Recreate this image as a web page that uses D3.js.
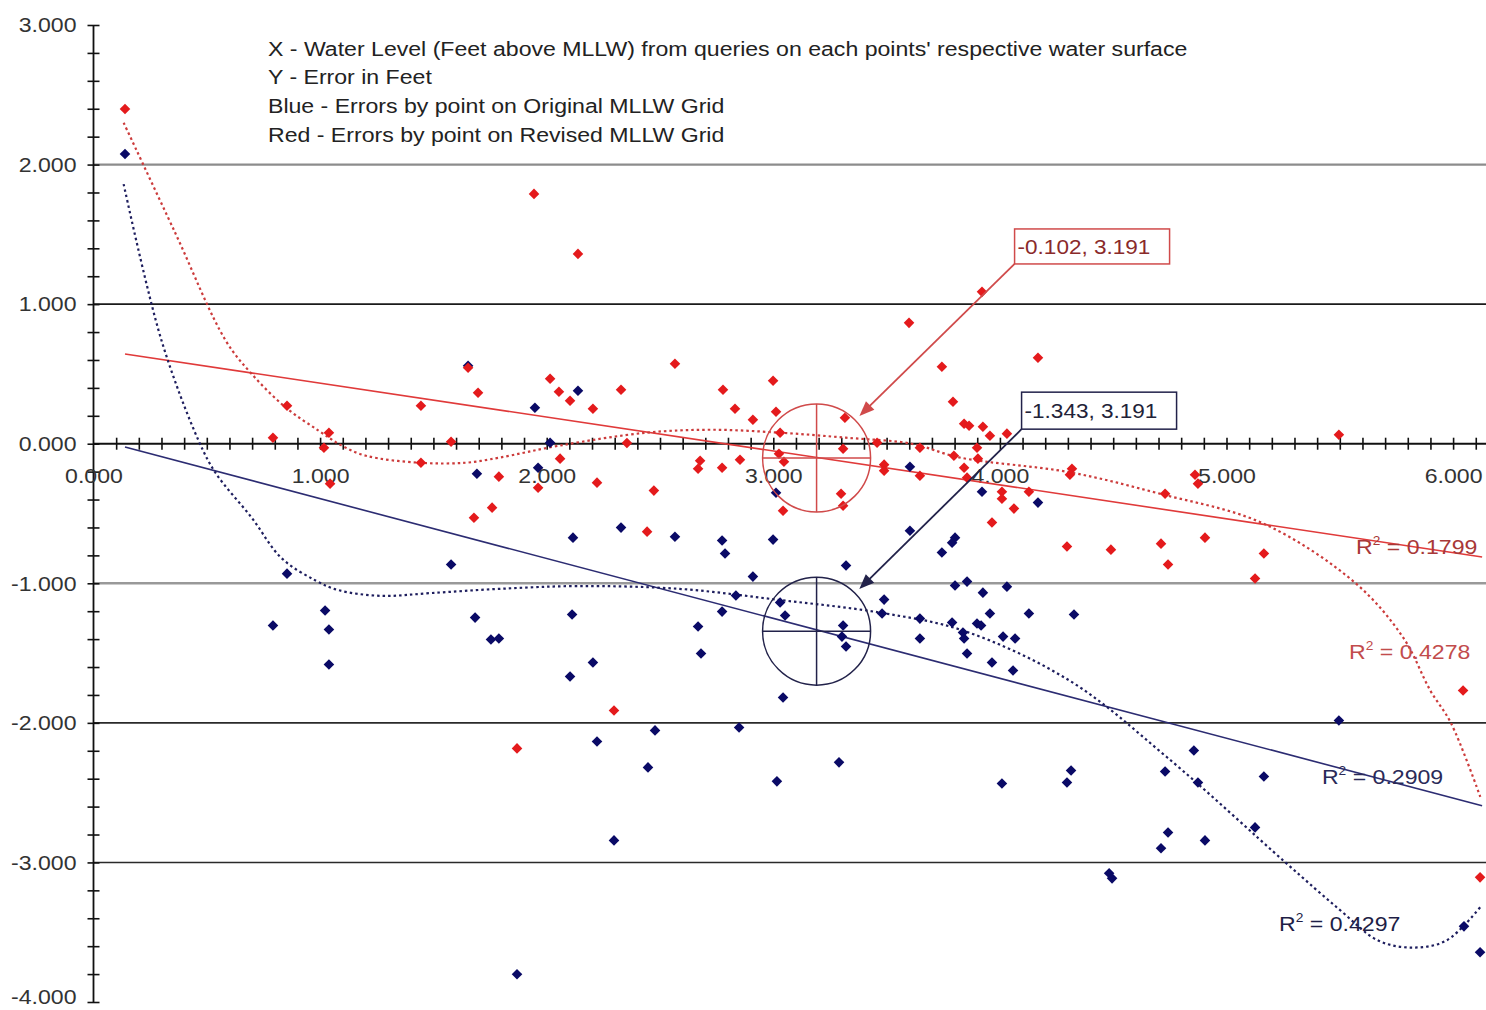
<!DOCTYPE html>
<html><head><meta charset="utf-8">
<script src="https://cdn.jsdelivr.net/npm/d3@7"></script>
<style>html,body{margin:0;padding:0;background:#fff;} svg{display:block;font-family:"Liberation Sans",Arial,sans-serif;}</style>
</head><body><svg id="chart" width="1486" height="1010"></svg>
<script>
// ---------- data ----------
const xTickValues = [0, 1, 2, 3, 4, 5, 6];
const yTickValues = [-4, -3, -2, -1, 0, 1, 2, 3];
const gridValues = [2, 1, -1, -2, -3];
const legendLines = [
  "X - Water Level (Feet above MLLW) from queries on each points' respective water surface",
  "Y - Error in Feet",
  "Blue - Errors by point on Original MLLW Grid",
  "Red - Errors by point on Revised MLLW Grid"
];
// Revised grid (red): [water level, error]
const redPoints = [
  [0.139,2.398],[0.854,0.272],[0.792,0.043],[1.039,0.079],[1.017,-0.029],[1.044,-0.286],
  [1.445,0.272],[1.578,0.014],[1.653,0.544],[1.697,0.365],[1.445,-0.136],[1.789,-0.236],
  [1.679,-0.530],[1.759,-0.458],[1.944,1.790],[2.138,1.360],[2.015,0.465],[2.054,0.372],
  [2.103,0.308],[2.059,-0.107],[1.962,-0.315],[2.204,0.251],[2.328,0.387],[2.354,0.005],
  [2.222,-0.279],[2.473,-0.336],[2.443,-0.630],[2.566,0.573],[2.677,-0.122],[2.668,-0.179],
  [2.774,-0.172],[2.853,-0.115],[2.778,0.387],[2.831,0.251],[2.910,0.172],[2.999,0.451],
  [3.012,0.229],[3.030,0.079],[3.025,-0.072],[3.047,-0.129],[3.043,-0.480],[3.316,0.186],
  [3.308,-0.036],[3.299,-0.358],[3.308,-0.444],[3.458,0.007],[3.489,-0.150],[3.489,-0.193],
  [3.599,0.866],[3.647,-0.029],[3.647,-0.229],[3.744,0.551],[3.793,0.301],[3.842,0.143],
  [3.864,0.129],[3.797,-0.086],[3.842,-0.172],[3.855,-0.243],[3.899,-0.029],[3.903,-0.107],
  [3.921,1.088],[3.925,0.122],[3.956,0.057],[4.031,0.072],[3.965,-0.565],[4.009,-0.344],
  [4.009,-0.394],[4.062,-0.465],[4.128,-0.344],[4.168,0.616],[4.318,-0.179],[4.309,-0.222],
  [4.296,-0.737],[4.490,-0.759],[4.711,-0.716],[4.742,-0.866],[4.729,-0.358],[4.861,-0.222],
  [4.874,-0.286],[4.905,-0.673],[5.165,-0.787],[5.126,-0.966],[5.496,0.064],[6.044,-1.768],
  [6.119,-3.107],[2.297,-1.911],[1.869,-2.183]
];
// Original grid (blue): [water level, error]
const bluePoints = [
  [0.139,2.076],[0.854,-0.931],[0.792,-1.303],[1.022,-1.195],[1.039,-1.331],[1.039,-1.582],
  [1.578,-0.866],[1.692,-0.215],[1.684,-1.246],[1.754,-1.403],[1.789,-1.396],[1.653,0.558],
  [1.948,0.258],[2.015,0.007],[1.962,-0.172],[2.138,0.379],[2.116,-0.673],[2.112,-1.224],
  [2.103,-1.668],[2.204,-1.568],[2.328,-0.601],[2.566,-0.666],[2.774,-0.694],[2.787,-0.787],
  [2.999,-0.687],[2.910,-0.952],[2.835,-1.088],[2.774,-1.203],[2.668,-1.310],[2.681,-1.503],
  [3.030,-1.138],[3.052,-1.231],[3.043,-1.818],[3.012,-0.351],[3.321,-0.873],[3.308,-1.303],
  [3.303,-1.382],[3.321,-1.453],[3.489,-1.117],[3.480,-1.217],[3.603,-0.165],[3.603,-0.623],
  [3.744,-0.780],[3.789,-0.709],[3.802,-0.673],[3.647,-1.253],[3.647,-1.396],[3.802,-1.016],
  [3.855,-0.988],[3.925,-1.067],[4.031,-1.024],[3.956,-1.217],[4.128,-1.217],[4.327,-1.224],
  [3.789,-1.281],[3.899,-1.288],[3.917,-1.303],[3.837,-1.353],[3.842,-1.396],[3.855,-1.503],
  [4.014,-1.382],[4.067,-1.396],[3.965,-1.568],[4.058,-1.625],[3.921,-0.344],[4.168,-0.422],
  [5.496,-1.983],[4.856,-2.198],[4.009,-2.434],[4.314,-2.341],[4.296,-2.427],[4.729,-2.348],
  [4.874,-2.427],[5.165,-2.384],[5.126,-2.749],[4.742,-2.785],[4.711,-2.899],[4.905,-2.842],
  [4.482,-3.078],[4.495,-3.114],[6.048,-3.458],[6.119,-3.644],[2.478,-2.054],[2.222,-2.133],
  [2.849,-2.033],[2.447,-2.319],[3.290,-2.283],[3.016,-2.419],[2.297,-2.842],[1.869,-3.801]
];
// trendlines
const redLinear = [[0.139,0.643],[6.128,-0.812]];
const blueLinear = [[0.139,-0.024],[6.128,-2.594]];
const redPoly = [
  [0.133,2.30],[0.358,1.52],[0.583,0.74],[0.698,0.50],[0.848,0.26],[0.994,0.093],[1.096,-0.014],
  [1.202,-0.086],[1.436,-0.136],[1.644,-0.136],[1.79,-0.10],[2.055,-0.014],[2.44,0.079],[2.73,0.10],
  [3.03,0.079],[3.32,0.043],[3.61,0.0],[3.82,-0.098],[4.31,-0.205],[4.71,-0.36],[5.16,-0.57],
  [5.57,-1.0],[5.78,-1.39],[5.90,-1.77],[5.99,-2.0],[6.12,-2.53]
];
const bluePoly = [
  [0.133,1.86],[0.30,0.74],[0.464,0.021],[0.539,-0.21],[0.698,-0.53],[0.83,-0.82],[0.98,-0.98],
  [1.083,-1.05],[1.27,-1.09],[1.49,-1.07],[1.79,-1.04],[2.14,-1.02],[2.585,-1.04],[3.03,-1.12],
  [3.47,-1.21],[3.84,-1.34],[4.31,-1.70],[4.74,-2.25],[5.26,-3.0],[5.50,-3.34],[5.67,-3.56],
  [5.82,-3.61],[5.97,-3.56],[6.12,-3.32]
];
const annotations = [
  {label: "-0.102, 3.191", x: 3.191, y: -0.102, series: "red"},
  {label: "-1.343, 3.191", x: 3.191, y: -1.343, series: "blue"}
];
const rSquaredLabels = [
  {value: "0.1799", series: "red", at: [5.572, -0.79]},
  {value: "0.4278", series: "red", at: [5.541, -1.543]},
  {value: "0.2909", series: "blue", at: [5.421, -2.44]},
  {value: "0.4297", series: "blue", at: [5.232, -3.49]}
];

// ---------- drawing ----------
const SX = 1.1; // horizontal stretch of the original's lettering
const svg = d3.select("#chart");
svg.append("rect").attr("width",1486).attr("height",1010).attr("fill","#fff");
const x = d3.scaleLinear().domain([0, 6.15]).range([93.5, 93.5 + 6.15*226.6]);
const y = d3.scaleLinear().domain([-4, 3]).range([1002, 25]);
const colors = {
  red: {pt:"#e41a1c", lin:"#e03a3a", poly:"#cc3b3b", box:"#d04a4a", text:"#8a2a2a", r2:["#a83838","#c24c4c"]},
  blue:{pt:"#0a0a66", lin:"#2c2c72", poly:"#1e1e5e", box:"#22224a", text:"#222238", r2:["#2a2a58","#1e1e46"]}
};
function stretchedText(parent, tx, ty, size, fill) {
  return parent.append("text").attr("transform", `translate(${tx},${ty}) scale(${SX},1)`)
    .attr("font-size", size).attr("fill", fill);
}

// gridlines
const gridStyle = {"2":["#8c8c8c",2.2],"1":["#1a1a1a",1.6],"-1":["#999",2.4],"-2":["#2a2a2a",1.6],"-3":["#2a2a2a",1.6]};
svg.append("g").selectAll("line").data(gridValues).join("line")
  .attr("x1", x(0)).attr("x2", 1486)
  .attr("y1", d => y(d)).attr("y2", d => y(d))
  .attr("stroke", d => gridStyle[d][0]).attr("stroke-width", d => gridStyle[d][1]);

// y axis
const yMinor = d3.range(-20, 16).map(i => i/5);
const gY = svg.append("g").attr("transform", `translate(${x(0)},0)`);
gY.call(d3.axisLeft(y).tickValues(yMinor).tickSize(6).tickFormat(""))
  .call(g => g.select(".domain").remove())
  .call(g => g.selectAll(".tick line").attr("x1", 6).attr("stroke","#111").attr("stroke-width",1.6));
gY.append("line").attr("y1", y(3)).attr("y2", y(-4)).attr("stroke","#111").attr("stroke-width",1.8);
const gYL = svg.append("g").attr("transform", `translate(${x(0)},0)`);
gYL.call(d3.axisLeft(y).tickValues(yTickValues).tickSize(0).tickPadding(17).tickFormat(d => d.toFixed(3)))
  .call(g => g.select(".domain").remove())
  .call(g => g.selectAll("text")
    .attr("font-size", 21).attr("fill","#333").attr("font-family","Liberation Sans, Arial, sans-serif")
    .attr("x", -17/SX).attr("transform", `scale(${SX},1)`)
    .attr("y", d => d === -4 ? -5 : 0));

// x axis
const xMinor = d3.range(1, 62).map(i => i/10);
const gX = svg.append("g").attr("transform", `translate(0,${y(0)})`);
gX.call(d3.axisBottom(x).tickValues(xMinor).tickSize(6).tickFormat(""))
  .call(g => g.select(".domain").remove())
  .call(g => g.selectAll(".tick line").attr("y1", -6).attr("stroke","#111").attr("stroke-width",1.6));
gX.append("line").attr("x1", x(0)).attr("x2", 1486).attr("stroke","#111").attr("stroke-width",2);
const gXL = svg.append("g").attr("transform", `translate(0,${y(0)})`);
gXL.call(d3.axisBottom(x).tickValues(xTickValues).tickSize(0).tickPadding(24).tickFormat(d => d.toFixed(3)))
  .call(g => g.select(".domain").remove())
  .call(g => g.selectAll("text").attr("font-size", 21).attr("fill","#333")
    .attr("font-family","Liberation Sans, Arial, sans-serif").attr("transform", `scale(${SX},1)`));

// trendlines
const line = d3.line().x(d => x(d[0])).y(d => y(d[1]));
const curve = d3.line().x(d => x(d[0])).y(d => y(d[1])).curve(d3.curveCatmullRom.alpha(0.5));
svg.append("path").datum(redLinear).attr("d", line).attr("fill","none").attr("stroke", colors.red.lin).attr("stroke-width",1.6);
svg.append("path").datum(blueLinear).attr("d", line).attr("fill","none").attr("stroke", colors.blue.lin).attr("stroke-width",1.6);
svg.append("path").datum(redPoly).attr("d", curve).attr("fill","none").attr("stroke", colors.red.poly).attr("stroke-width",2.2).attr("stroke-dasharray","2.5,3");
svg.append("path").datum(bluePoly).attr("d", curve).attr("fill","none").attr("stroke", colors.blue.poly).attr("stroke-width",2.2).attr("stroke-dasharray","2.5,3");

// points
const sym = d3.symbol(d3.symbolSquare, 56);
function drawPts(data, col) {
  svg.append("g").selectAll("path").data(data).join("path")
    .attr("d", sym)
    .attr("transform", d => `translate(${x(d[0])},${y(d[1])}) rotate(45)`)
    .attr("fill", col);
}
drawPts(bluePoints, colors.blue.pt);
drawPts(redPoints, colors.red.pt);

// annotations: circle with crosshair, arrow and box
const R = 54;
const boxOffset = {red: [198, -229, 35], blue: [205, -239, 37]};
annotations.forEach(a => {
  const c = colors[a.series];
  const cx = x(a.x), cy = y(a.y);
  const g = svg.append("g");
  g.append("circle").attr("cx", cx).attr("cy", cy).attr("r", R).attr("fill","none").attr("stroke", c.box).attr("stroke-width",1.5);
  g.append("line").attr("x1", cx).attr("x2", cx).attr("y1", cy-R).attr("y2", cy+R).attr("stroke", c.box).attr("stroke-width",1.5);
  g.append("line").attr("x1", cx-R).attr("x2", cx+R).attr("y1", cy).attr("y2", cy).attr("stroke", c.box).attr("stroke-width",1.5);
  const [ox, oy, bh] = boxOffset[a.series];
  const bx = cx + ox, by = cy + oy, bw = 155;
  const sx = bx, sy = by + bh;
  const dx = cx - sx, dy = cy - sy, len = Math.hypot(dx, dy);
  const ux = dx/len, uy = dy/len;
  const tipDist = len - (R + 6);
  const tx = sx + ux*tipDist, ty = sy + uy*tipDist;
  const hl = 15, hw = 6;
  g.append("line").attr("x1", sx).attr("y1", sy).attr("x2", tx - ux*hl*0.8).attr("y2", ty - uy*hl*0.8).attr("stroke", c.box).attr("stroke-width",1.8);
  const px = -uy, py = ux;
  g.append("path").attr("d", `M${tx},${ty}L${tx-ux*hl+px*hw},${ty-uy*hl+py*hw}L${tx-ux*hl-px*hw},${ty-uy*hl-py*hw}Z`).attr("fill", c.box);
  g.append("rect").attr("x", bx).attr("y", by).attr("width", bw).attr("height", bh).attr("fill","#fff").attr("stroke", c.box).attr("stroke-width",1.5);
  stretchedText(g, bx + 3, by + bh/2 + 7.5, 20.5, c.text).text(a.label);
});

// R² labels
rSquaredLabels.forEach((r, i) => {
  const c = colors[r.series].r2[i % 2];
  const t = stretchedText(svg, x(r.at[0]), y(r.at[1]), 21, c);
  t.append("tspan").text("R");
  t.append("tspan").attr("font-size", 12.5).attr("dy", -9).text("2");
  t.append("tspan").attr("dy", 9).text(" = " + r.value);
});

// legend text
legendLines.forEach((d, i) => {
  stretchedText(svg, 268, 55.5 + i*28.7, 21, "#222").text(d);
});
</script></body></html>
